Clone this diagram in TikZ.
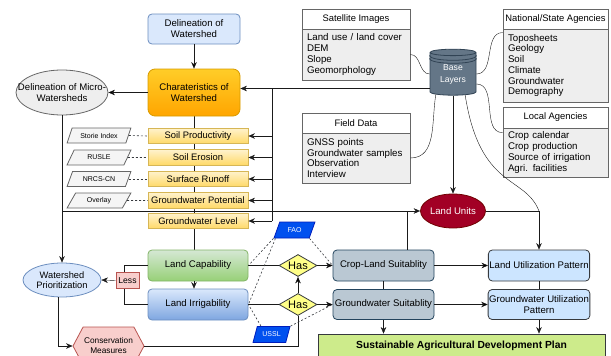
\documentclass[tikz,border=0pt]{standalone}
\usepackage{fontspec}
\setmainfont{Liberation Sans}
\usetikzlibrary{shapes,shapes.geometric,shapes.symbols,arrows.meta,calc}
\pgfdeclarelayer{bg}
\pgfsetlayers{bg,main}

\definecolor{lblue}{HTML}{DAE8FC}
\definecolor{mblue}{HTML}{7EA6E0}
\definecolor{bluedraw}{HTML}{6C8EBF}
\definecolor{orangetop}{HTML}{FFCD28}
\definecolor{orangebot}{HTML}{FFA500}
\definecolor{orangedraw}{HTML}{D79B00}
\definecolor{yellowtop}{HTML}{FFF2CC}
\definecolor{yellowbot}{HTML}{FFD966}
\definecolor{yellowdraw}{HTML}{D6B656}
\definecolor{greyfill}{HTML}{F5F5F5}
\definecolor{listfill}{HTML}{EEEEEE}
\definecolor{greydraw}{HTML}{666666}
\definecolor{darkdraw}{HTML}{36393D}
\definecolor{basefill}{HTML}{647687}
\definecolor{basedraw}{HTML}{314354}
\definecolor{unitfill}{HTML}{A20025}
\definecolor{unitdraw}{HTML}{6F0000}
\definecolor{greentop}{HTML}{D5E8D4}
\definecolor{greenbot}{HTML}{97D077}
\definecolor{greendraw}{HTML}{82B366}
\definecolor{redfill}{HTML}{F8CECC}
\definecolor{reddraw}{HTML}{B85450}
\definecolor{hasfill}{HTML}{FFFF88}
\definecolor{stdfill}{HTML}{0050EF}
\definecolor{stddraw}{HTML}{001DBC}
\definecolor{suitfill}{HTML}{BAC8D3}
\definecolor{suitdraw}{HTML}{23445D}
\definecolor{patfill}{HTML}{CCE5FF}
\definecolor{planfill}{HTML}{CDEB8B}
\definecolor{linecol}{HTML}{1A1A1A}

\tikzset{
  box/.style={draw,rectangle,rounded corners=4pt,align=center,inner sep=1pt},
  factor/.style={draw=yellowdraw,top color=yellowtop,bottom color=yellowbot,rectangle,
    minimum width=100pt,minimum height=15.5pt,inner sep=1pt,font=\fontsize{9.4}{11}\selectfont},
  method/.style={draw=greydraw,fill=greyfill,trapezium,trapezium left angle=56,trapezium right angle=124,
    trapezium stretches=true,minimum width=64pt,minimum height=15pt,inner sep=0pt,font=\fontsize{7}{8}\selectfont},
  stdref/.style={draw=stddraw,fill=stdfill,text=white,trapezium,trapezium left angle=61,trapezium right angle=119,
    trapezium stretches=true,minimum height=16pt,inner sep=0pt,font=\fontsize{7}{8}\selectfont},
  srchead/.style={draw=greydraw,fill=white,rectangle,minimum height=20pt,inner sep=0pt,font=\fontsize{9.4}{11}\selectfont},
  srclist/.style={draw=greydraw,fill=listfill,rectangle,align=left,inner xsep=5pt,inner ysep=0pt,
    font=\fontsize{9.7}{10.7}\selectfont},
  hasbox/.style={draw=darkdraw,fill=hasfill,diamond,aspect=1.7,minimum width=38pt,minimum height=22pt,
    inner sep=0pt,font=\fontsize{11}{12}\selectfont},
  suitbox/.style={box,draw=suitdraw,fill=suitfill,minimum width=101pt},
  patbox/.style={box,draw=darkdraw,fill=patfill,minimum width=100pt},
  link/.style={draw=linecol},
  hint/.style={draw=darkdraw,line width=0.6pt,dash pattern=on 2pt off 2pt},
}

\begin{document}
\begin{tikzpicture}[x=1pt,y=1pt,line width=0.8pt,>={Stealth[length=6.5pt,width=5.5pt]},
    font=\fontsize{9.6}{11}\selectfont]
  \useasboundingbox (0,0) rectangle (611,-356);
  \clip (0,0) rectangle (611,-356);

  \node[box,draw=bluedraw,fill=lblue,minimum width=92pt,minimum height=30pt] (delin) at (194,-29) {Delineation of\\Watershed};
  \node[box,draw=orangedraw,top color=orangetop,bottom color=orangebot,rounded corners=7pt,
    minimum width=92pt,minimum height=47pt] (charac) at (194,-92.5) {Charateristics of\\Watershed};
  \node[draw=greydraw,fill=listfill,ellipse,inner sep=0pt,minimum width=92pt,minimum height=45pt,
    label={[align=center]center:Delineation of Micro-\\Watersheds}] (micro) at (62,-92.5) {};

  \node[factor] (sp) at (198,-136) {Soil Productivity};
  \node[factor] (se) at (198,-157.5) {Soil Erosion};
  \node[factor] (sr) at (198,-179) {Surface Runoff};
  \node[factor] (gp) at (198,-200.5) {Groundwater Potential};
  \node[factor] (gl) at (198,-221) {Groundwater Level};

  \node[method] (storie) at (99,-135.5) {Storie Index};
  \node[method] (rusle) at (99,-157.5) {RUSLE};
  \node[method] (nrcs) at (99,-179) {NRCS-CN};
  \node[method] (overlay) at (99,-200.5) {Overlay};

  \node[srchead,minimum width=108pt] (sat) at (356,-19) {Satellite Images};
  \node[srclist,text width=98pt,minimum height=51pt] (satlist) at (356,-54.5) {Land use / land cover\\DEM\\Slope\\Geomorphology};
  \node[srchead,minimum width=108pt] (field) at (356,-123) {Field Data};
  \node[srclist,text width=98pt,minimum height=50pt] (fieldlist) at (356,-158) {GNSS points\\Groundwater samples\\Observation\\Interview};
  \node[srchead,minimum width=105pt] (nat) at (555.5,-19) {National/State Agencies};
  \node[srclist,text width=95pt,minimum height=73pt] (natlist) at (555.5,-65.5) {Toposheets\\Geology\\Soil\\Climate\\Groundwater\\Demography};
  \node[srchead,minimum width=105pt,minimum height=21pt] (local) at (555.5,-117.5) {Local Agencies};
  \node[srclist,text width=95pt,minimum height=49pt] (locallist) at (555.5,-152.5) {Crop calendar\\Crop production\\Source of irrigation\\Agri. facilities};

  \node[cylinder,shape border rotate=90,aspect=0.25,draw=basedraw,fill=basefill,text=white,align=center,
    minimum width=46pt,minimum height=46pt,inner sep=0pt,font=\fontsize{8.6}{12}\selectfont] (base) at (453,-74) {Base\\Layers};
  \draw[basedraw] ([yshift=-3pt]base.before top) .. controls +(0,-6.5pt) and +(0,-6.5pt) .. ([yshift=-3pt]base.after top);
  \draw[basedraw] ([yshift=-6pt]base.before top) .. controls +(0,-6.5pt) and +(0,-6.5pt) .. ([yshift=-6pt]base.after top);
  \node[draw=unitdraw,fill=unitfill,text=white,ellipse,inner sep=0pt,minimum width=62pt,minimum height=34pt] (lunits) at (453,-211) {Land Units};

  \node[box,draw=greendraw,top color=greentop,bottom color=greenbot,minimum width=100pt,minimum height=31pt] (landcap) at (198,-265.5) {Land Capability};
  \node[box,draw=bluedraw,top color=lblue,bottom color=mblue,minimum width=100pt,minimum height=31pt] (landirr) at (198,-304.5) {Land Irrigability};
  \node[draw=reddraw,fill=redfill,rectangle,minimum width=23pt,minimum height=16pt,inner sep=0pt,
    font=\fontsize{8.6}{10}\selectfont] (less) at (127.5,-280.5) {Less};
  \node[draw=bluedraw,fill=lblue,ellipse,align=center,inner sep=0pt,minimum width=78pt,minimum height=34pt,
    font=\fontsize{9.3}{10.5}\selectfont] (prior) at (62,-280) {Watershed\\Prioritization};
  \node[draw=reddraw,fill=redfill,signal,signal to=west and east,signal pointer angle=124,align=center,inner sep=0pt,
    minimum width=71pt,minimum height=38pt,font=\fontsize{8.3}{10}\selectfont] (conserv) at (108.5,-346) {Conservation\\Measures};

  \node[hasbox] (has1) at (298,-265.5) {Has};
  \node[hasbox] (has2) at (298,-304.5) {Has};
  \node[stdref,minimum width=41pt] (fao) at (294.5,-230) {FAO};
  \node[stdref,minimum width=37pt] (ussl) at (271.5,-334.5) {USSL};

  \node[suitbox,minimum height=31pt] (cropsuit) at (383.5,-265.5) {Crop-Land Suitablity};
  \node[suitbox,minimum height=30pt] (gwsuit) at (383.5,-304.5) {Groundwater Suitablity};
  \node[patbox,minimum height=31pt] (lup) at (539,-265.5) {Land Utilization Pattern};
  \node[patbox,minimum height=30pt] (gwup) at (539,-304.5) {Groundwater Utilization\\Pattern};
  \node[draw=darkdraw,fill=planfill,rectangle,minimum width=287pt,minimum height=24pt,
    font=\fontsize{10.3}{12}\selectfont\bfseries] (plan) at (461.5,-346) {Sustainable Agricultural Development Plan};

  \begin{pgfonlayer}{bg}
    \draw[link] (charac.south) -- (charac.south |- landcap.north);
  \end{pgfonlayer}

  \path[link,->] (delin) edge (charac) (charac) edge (micro);
  \coordinate (feed) at (272,-88.5);
  \draw[link] (base.west |- feed) -- (feed) -- (feed |- gl.east);
  \draw[link,->] (feed) -- (charac.east |- feed);
  \foreach \f in {sp,se,sr,gp,gl}
    \draw[link,->] (feed |- \f.east) -- (\f.east);
  \foreach \m/\f in {storie/sp,rusle/se,nrcs/sr,overlay/gp}
    \draw[hint] (\m.east) -- (\f.west);

  \draw[link] (satlist.east) to[out=0,in=180] (base.west);
  \draw[link] (fieldlist.east) to[out=0,in=-100] (base.-130);
  \draw[link] (base.east) to[out=0,in=180] ([yshift=-4pt]natlist.north west);
  \draw[link] ([yshift=-10pt]base.east) to[out=0,in=180] ([yshift=-5pt]locallist.north west);
  \draw[link] (base.-60) .. controls (480,-190) and (525,-175) .. (lup.north |- lunits.east);

  \draw[link,->] (micro.south) -- (prior.north);
  \draw[link,->] (micro.south |- lunits.west) -- (lunits.west);
  \draw[link] ([xshift=23.5pt]cropsuit.north) -- ([xshift=23.5pt]cropsuit.north |- lunits.west);
  \draw[link,->] (base.south) -- (lunits.north);
  \draw[link,->] (lunits.east) -| (lup.north);

  \draw[link,->] (landcap.south -| charac.south) -- (landirr.north -| charac.south);
  \draw[link] (landcap.west) -| ([xshift=-3.5pt]less.north);
  \draw[link] (landirr.west) -| ([xshift=-3.5pt]less.south);
  \draw[link,->] (less.west) -- (prior.east);
  \draw[link,->] ([xshift=-4pt]prior.south) |- (conserv.west);
  \draw[link] (conserv.east) -| (has2.south);

  \draw[link] (landcap.east) -- (has1.west);
  \draw[link] (landirr.east) -- (has2.west);
  \path[link,->] (has2) edge (has1) (has1) edge (cropsuit) (has2) edge (gwsuit);
  \draw[hint] (fao.bottom left corner) -- (landcap.east);
  \draw[hint] ([xshift=2pt]fao.bottom left corner) -- (landirr.east);
  \draw[hint] (fao.bottom right corner) -- (cropsuit.west);
  \draw[hint] ([xshift=4pt]ussl.top left corner) -- (landirr.east);
  \draw[hint] (ussl.top right corner) -- (gwsuit.west);

  \draw[link] (cropsuit.south) -- (gwsuit.north);
  \draw[link] (lup.south) -- (gwup.north);
  \path[link,->] (cropsuit) edge (lup) (gwsuit) edge (gwup);
  \draw[link,->] (gwsuit.south) -- (gwsuit.south |- plan.north);
  \draw[link,->] (gwup.south) -- (gwup.south |- plan.north);
\end{tikzpicture}
\end{document}
